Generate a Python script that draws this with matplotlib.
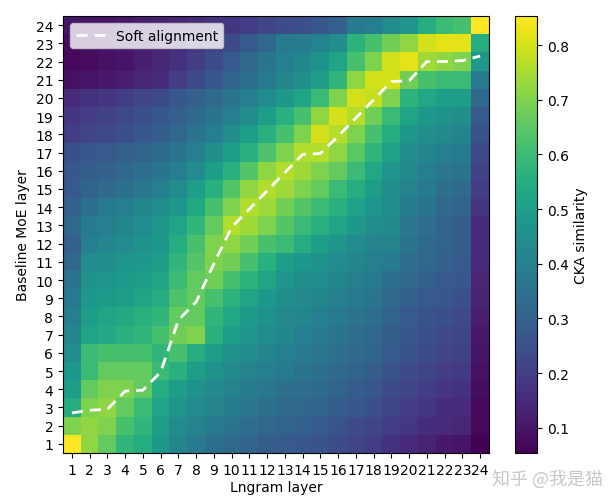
import numpy as np
import matplotlib
matplotlib.use('Agg')
import matplotlib.pyplot as plt

plt.rcParams['font.family'] = ['DejaVu Sans', 'Noto Sans CJK SC']

# CKA similarity, rows from Baseline MoE layer 24 (top) down to 1 (bottom)
row24 = [0.10, 0.10, 0.10, 0.11, 0.12, 0.13, 0.14, 0.15, 0.17, 0.18, 0.20, 0.22, 0.24, 0.25, 0.27, 0.30, 0.38, 0.40, 0.44, 0.47, 0.55, 0.60, 0.62, 0.85]
row23 = [0.08, 0.09, 0.10, 0.11, 0.12, 0.14, 0.16, 0.18, 0.21, 0.24, 0.28, 0.32, 0.38, 0.39, 0.41, 0.45, 0.57, 0.62, 0.68, 0.72, 0.80, 0.82, 0.82, 0.55]
row22 = [0.07, 0.08, 0.09, 0.10, 0.12, 0.14, 0.17, 0.20, 0.24, 0.28, 0.32, 0.36, 0.40, 0.42, 0.46, 0.52, 0.62, 0.70, 0.80, 0.82, 0.74, 0.72, 0.70, 0.48]
row21 = [0.09, 0.10, 0.11, 0.12, 0.14, 0.16, 0.20, 0.23, 0.27, 0.31, 0.35, 0.38, 0.42, 0.45, 0.50, 0.58, 0.72, 0.80, 0.80, 0.68, 0.62, 0.60, 0.60, 0.38]
row20 = [0.15, 0.17, 0.18, 0.20, 0.22, 0.24, 0.27, 0.30, 0.33, 0.36, 0.40, 0.44, 0.48, 0.52, 0.60, 0.70, 0.80, 0.78, 0.70, 0.57, 0.53, 0.50, 0.50, 0.32]
row19 = [0.18, 0.20, 0.21, 0.23, 0.25, 0.27, 0.30, 0.33, 0.36, 0.40, 0.44, 0.50, 0.56, 0.62, 0.72, 0.80, 0.76, 0.68, 0.60, 0.52, 0.48, 0.46, 0.45, 0.28]
row18 = [0.20, 0.22, 0.23, 0.25, 0.27, 0.29, 0.32, 0.36, 0.40, 0.45, 0.50, 0.56, 0.62, 0.70, 0.80, 0.76, 0.70, 0.62, 0.55, 0.48, 0.45, 0.43, 0.41, 0.26]
row17 = [0.25, 0.27, 0.28, 0.30, 0.31, 0.33, 0.36, 0.40, 0.45, 0.50, 0.56, 0.63, 0.70, 0.76, 0.76, 0.72, 0.65, 0.58, 0.51, 0.45, 0.42, 0.40, 0.38, 0.23]
row16 = [0.27, 0.29, 0.30, 0.32, 0.34, 0.36, 0.40, 0.44, 0.50, 0.56, 0.64, 0.72, 0.76, 0.74, 0.70, 0.66, 0.60, 0.53, 0.47, 0.43, 0.40, 0.37, 0.36, 0.21]
row15 = [0.28, 0.31, 0.33, 0.35, 0.37, 0.40, 0.44, 0.50, 0.56, 0.64, 0.72, 0.76, 0.74, 0.70, 0.66, 0.60, 0.55, 0.50, 0.45, 0.41, 0.38, 0.35, 0.33, 0.20]
row14 = [0.30, 0.35, 0.38, 0.40, 0.42, 0.44, 0.48, 0.54, 0.62, 0.70, 0.76, 0.74, 0.68, 0.64, 0.60, 0.56, 0.51, 0.47, 0.44, 0.39, 0.36, 0.33, 0.31, 0.18]
row13 = [0.32, 0.38, 0.40, 0.42, 0.44, 0.47, 0.52, 0.58, 0.66, 0.76, 0.74, 0.70, 0.64, 0.60, 0.56, 0.52, 0.48, 0.45, 0.43, 0.37, 0.34, 0.31, 0.29, 0.16]
row12 = [0.30, 0.40, 0.42, 0.44, 0.46, 0.48, 0.55, 0.62, 0.70, 0.72, 0.68, 0.62, 0.60, 0.55, 0.50, 0.47, 0.44, 0.41, 0.41, 0.36, 0.33, 0.31, 0.29, 0.16]
row11 = [0.32, 0.44, 0.45, 0.47, 0.48, 0.50, 0.58, 0.64, 0.70, 0.68, 0.62, 0.56, 0.50, 0.48, 0.46, 0.44, 0.42, 0.40, 0.38, 0.34, 0.32, 0.30, 0.28, 0.15]
row10 = [0.36, 0.46, 0.47, 0.49, 0.50, 0.52, 0.60, 0.66, 0.68, 0.62, 0.57, 0.52, 0.47, 0.45, 0.44, 0.42, 0.40, 0.38, 0.35, 0.32, 0.30, 0.28, 0.27, 0.14]
row9 = [0.38, 0.48, 0.49, 0.50, 0.52, 0.55, 0.63, 0.66, 0.62, 0.57, 0.52, 0.48, 0.45, 0.43, 0.42, 0.40, 0.38, 0.36, 0.33, 0.30, 0.28, 0.27, 0.25, 0.13]
row8 = [0.40, 0.50, 0.52, 0.54, 0.56, 0.58, 0.66, 0.66, 0.58, 0.53, 0.49, 0.46, 0.43, 0.42, 0.40, 0.38, 0.36, 0.34, 0.31, 0.28, 0.26, 0.25, 0.23, 0.12]
row7 = [0.42, 0.52, 0.54, 0.56, 0.58, 0.62, 0.68, 0.70, 0.56, 0.50, 0.47, 0.44, 0.42, 0.40, 0.38, 0.36, 0.34, 0.32, 0.29, 0.27, 0.25, 0.23, 0.22, 0.11]
row6 = [0.45, 0.60, 0.62, 0.62, 0.62, 0.58, 0.62, 0.55, 0.50, 0.46, 0.44, 0.42, 0.40, 0.38, 0.37, 0.35, 0.33, 0.31, 0.28, 0.26, 0.24, 0.22, 0.21, 0.10]
row5 = [0.48, 0.60, 0.66, 0.66, 0.66, 0.60, 0.56, 0.50, 0.46, 0.43, 0.41, 0.40, 0.38, 0.36, 0.35, 0.33, 0.31, 0.29, 0.26, 0.24, 0.22, 0.20, 0.19, 0.09]
row4 = [0.50, 0.66, 0.70, 0.70, 0.66, 0.55, 0.50, 0.46, 0.43, 0.41, 0.39, 0.37, 0.35, 0.34, 0.33, 0.31, 0.29, 0.27, 0.24, 0.22, 0.20, 0.18, 0.17, 0.08]
row3 = [0.55, 0.70, 0.72, 0.66, 0.60, 0.52, 0.47, 0.44, 0.41, 0.39, 0.37, 0.35, 0.33, 0.32, 0.31, 0.29, 0.27, 0.25, 0.22, 0.20, 0.18, 0.16, 0.15, 0.07]
row2 = [0.70, 0.72, 0.70, 0.62, 0.58, 0.50, 0.44, 0.41, 0.38, 0.36, 0.34, 0.32, 0.31, 0.30, 0.28, 0.26, 0.24, 0.22, 0.20, 0.18, 0.16, 0.15, 0.14, 0.07]
row1 = [0.85, 0.72, 0.66, 0.58, 0.55, 0.48, 0.42, 0.38, 0.35, 0.33, 0.31, 0.29, 0.28, 0.27, 0.26, 0.24, 0.22, 0.20, 0.17, 0.15, 0.13, 0.11, 0.10, 0.06]

lngram_layers = list(range(1, 25))
moe_layers = list(range(1, 25))

# soft alignment path (expected MoE layer for each Lngram layer)
soft_align = [2.7, 2.85, 2.9, 3.9, 3.95, 4.95, 7.8, 8.8, 10.9, 12.9, 13.9, 14.9,
              15.9, 16.9, 16.95, 17.9, 18.9, 19.9, 20.9, 20.95, 22.0, 22.0, 22.05, 22.3]

cka = np.array([row1, row2, row3, row4, row5, row6, row7, row8, row9, row10, row11, row12,
                row13, row14, row15, row16, row17, row18, row19, row20, row21, row22, row23, row24])

fig = plt.figure(figsize=(6.12, 5.02), dpi=100)
ax = fig.add_axes([0.103, 0.0956, 0.696, 0.8705])
cax = fig.add_axes([0.8415, 0.0956, 0.036, 0.8705])

im = ax.imshow(cka, origin='lower', cmap='viridis', vmin=0.054, vmax=0.853,
               extent=[0.5, 24.5, 0.5, 24.5], aspect='auto', interpolation='nearest')
ax.plot(lngram_layers, soft_align, color='white', linestyle='--', linewidth=2,
        dashes=(4, 2.5), label='Soft alignment')

ax.set_xticks(lngram_layers)
ax.set_yticks(moe_layers)
ax.tick_params(labelsize=10)
ax.set_xlabel('Lngram layer', fontsize=10, labelpad=2)
ax.set_ylabel('Baseline MoE layer', fontsize=10)
ax.legend(loc='upper left', fontsize=10, handlelength=2.1)

cbar = fig.colorbar(im, cax=cax)
cbar.set_label('CKA similarity', fontsize=10)
cbar.ax.tick_params(labelsize=10)

fig.text(0.895, 0.045, '知乎 @我是猫', fontsize=13, color='#c8c8c8',
         family=['Noto Sans CJK SC', 'DejaVu Sans'], ha='center', va='center')

plt.savefig('out.png', dpi=100)
